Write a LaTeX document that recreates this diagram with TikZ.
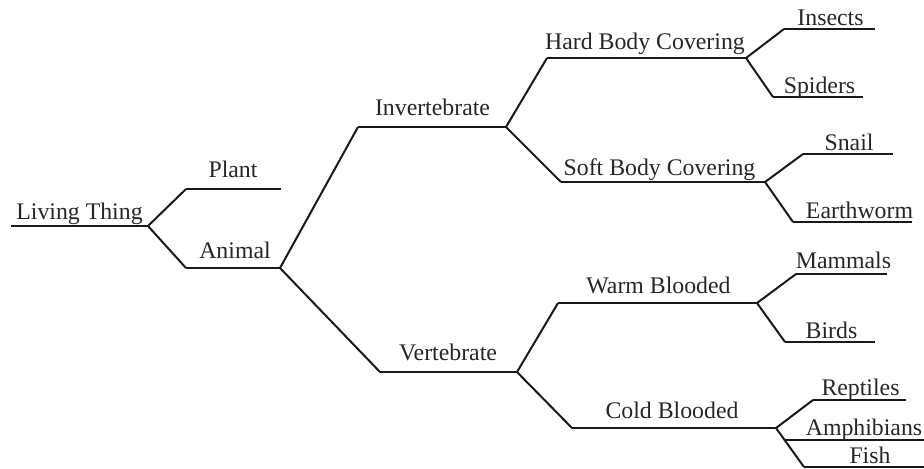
\documentclass[tikz,border=0pt]{standalone}
\usepackage{fontspec}
\setmainfont{Liberation Serif}
\begin{document}
\begin{tikzpicture}[x=0.5pt,y=-0.5pt,line width=1pt,
    font=\fontsize{11.9}{14}\selectfont,
    lbl/.style={anchor=base,inner sep=0pt,text=black!85}]
  \useasboundingbox (0,0) rectangle (924,468);
  \foreach \n/\xa/\xb/\y in {lt/11/148/226, plant/186/281/189, animal/186/280/268,
      invert/358/506/127, vert/380/517/372, hard/547/746/58, soft/561/765/182,
      insects/784/875/29, spiders/773/863/97, snail/803/893/154, worm/793/912/222,
      warm/558/757/303, cold/572/776/428, mammals/796/887/274, birds/785/875/342,
      reptiles/813/906/400, amphib/784/924/440, fish/804/924/467}{
    \coordinate (\n-s) at (\xa,\y);
    \coordinate (\n-e) at (\xb,\y);
    \draw[black!90] (\n-s) -- (\n-e);
  }
  \draw[black!90] (plant-s) -- (lt-e) -- (animal-s);
  \draw[black!90] (invert-s) -- (animal-e) -- (vert-s);
  \draw[black!90] (hard-s) -- (invert-e) -- (soft-s);
  \draw[black!90] (warm-s) -- (vert-e) -- (cold-s);
  \draw[black!90] (insects-s) -- (hard-e) -- (spiders-s);
  \draw[black!90] (snail-s) -- (soft-e) -- (worm-s);
  \draw[black!90] (mammals-s) -- (warm-e) -- (birds-s);
  \draw[black!90] (reptiles-s) -- (cold-e) -- (fish-s);
  \node[lbl] (lt) at (79.5,219) {Living Thing};
  \node[lbl] (plant) at (233,177) {Plant};
  \node[lbl] (animal) at (235,258) {Animal};
  \node[lbl] (invert) at (432.5,115) {Invertebrate};
  \node[lbl] (vert) at (448,360) {Vertebrate};
  \node[lbl] (hard) at (645,49) {Hard Body Covering};
  \node[lbl] (soft) at (659.5,175) {Soft Body Covering};
  \node[lbl] (insects) at (830.5,25) {Insects};
  \node[lbl] (spiders) at (819.5,93) {Spiders};
  \node[lbl] (snail) at (849,150) {Snail};
  \node[lbl] (worm) at (859.5,218) {Earthworm};
  \node[lbl] (warm) at (658.5,293) {Warm Blooded};
  \node[lbl] (cold) at (672,418) {Cold Blooded};
  \node[lbl] (mammals) at (843.5,268) {Mammals};
  \node[lbl] (birds) at (831.5,338) {Birds};
  \node[lbl] (reptiles) at (860.5,395) {Reptiles};
  \node[lbl] (amphib) at (864,435) {Amphibians};
  \node[lbl] (fish) at (870,463) {Fish};
\end{tikzpicture}
\end{document}
